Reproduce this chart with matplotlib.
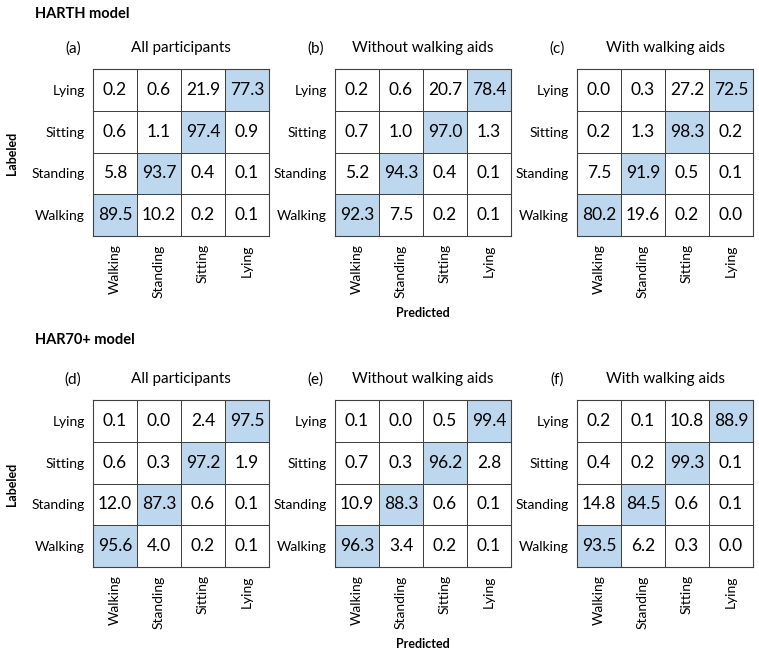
import numpy as np
import matplotlib
matplotlib.use("Agg")
import matplotlib.pyplot as plt
from matplotlib.colors import ListedColormap

plt.rcParams['font.family'] = ['Lato', 'DejaVu Sans']

classes = ["Walking", "Standing", "Sitting", "Lying"]

# rows = labeled (Walking, Standing, Sitting, Lying), cols = predicted
harth_all = [[89.5, 10.2, 0.2, 0.1],
             [5.8, 93.7, 0.4, 0.1],
             [0.6, 1.1, 97.4, 0.9],
             [0.2, 0.6, 21.9, 77.3]]
harth_without = [[92.3, 7.5, 0.2, 0.1],
                 [5.2, 94.3, 0.4, 0.1],
                 [0.7, 1.0, 97.0, 1.3],
                 [0.2, 0.6, 20.7, 78.4]]
harth_with = [[80.2, 19.6, 0.2, 0.0],
              [7.5, 91.9, 0.5, 0.1],
              [0.2, 1.3, 98.3, 0.2],
              [0.0, 0.3, 27.2, 72.5]]
har70_all = [[95.6, 4.0, 0.2, 0.1],
             [12.0, 87.3, 0.6, 0.1],
             [0.6, 0.3, 97.2, 1.9],
             [0.1, 0.0, 2.4, 97.5]]
har70_without = [[96.3, 3.4, 0.2, 0.1],
                 [10.9, 88.3, 0.6, 0.1],
                 [0.7, 0.3, 96.2, 2.8],
                 [0.1, 0.0, 0.5, 99.4]]
har70_with = [[93.5, 6.2, 0.3, 0.0],
              [14.8, 84.5, 0.6, 0.1],
              [0.4, 0.2, 99.3, 0.1],
              [0.2, 0.1, 10.8, 88.9]]

panels = [
    ("(a)", "All participants", harth_all),
    ("(b)", "Without walking aids", harth_without),
    ("(c)", "With walking aids", harth_with),
    ("(d)", "All participants", har70_all),
    ("(e)", "Without walking aids", har70_without),
    ("(f)", "With walking aids", har70_with),
]
section_titles = ["HARTH model", "HAR70+ model"]

W, H = 759, 657
fig = plt.figure(figsize=(W / 100, H / 100), dpi=100)

lefts = [93, 335, 577]
bottoms = [236, 567]
aw, ah = 176, 167
cmap = ListedColormap(["white", "#bdd7ee"])
line_col = "#404040"

for i, (tag, sub, mat) in enumerate(panels):
    r, c = divmod(i, 3)
    ax = fig.add_axes([lefts[c] / W, 1 - bottoms[r] / H, aw / W, ah / H])
    m = np.array(mat)
    diag = np.eye(4)
    ax.pcolormesh(np.arange(5), np.arange(5), diag, cmap=cmap, vmin=0, vmax=1,
                  edgecolors=line_col, linewidth=0.7)
    for yi in range(4):
        for xi in range(4):
            ax.text(xi + 0.5, yi + 0.5, f"{m[yi, xi]:.1f}", ha="center",
                    va="center", fontsize=12.5, color="black")
    ax.set_xlim(0, 4)
    ax.set_ylim(0, 4)
    ax.set_xticks(np.arange(4) + 0.5)
    ax.set_xticklabels(classes, rotation=90, fontsize=10)
    ax.set_yticks(np.arange(4) + 0.5)
    ax.set_yticklabels(classes, fontsize=10)
    ax.tick_params(length=0, pad=6)
    for s in ax.spines.values():
        s.set_color(line_col)
        s.set_linewidth(0.8)
    ax.text(-0.45, 4.5, tag, ha="center", va="center", fontsize=11)
    ax.text(2, 4.5, sub, ha="center", va="center", fontsize=11)
    if c == 1:
        ax.set_xlabel("Predicted", fontsize=9, fontweight="bold", labelpad=7)

# section titles and labeled axis labels in figure pixels
for r, t in enumerate(section_titles):
    ytop = [14, 340][r]
    fig.text(35 / W, 1 - ytop / H, t, ha="left", va="center", fontsize=10.5,
             fontweight="bold")
    fig.text(12 / W, 1 - [153, 484][r] / H, "Labeled", rotation=90,
             ha="center", va="center", fontsize=9, fontweight="bold")

fig.savefig("out.png", dpi=100)
